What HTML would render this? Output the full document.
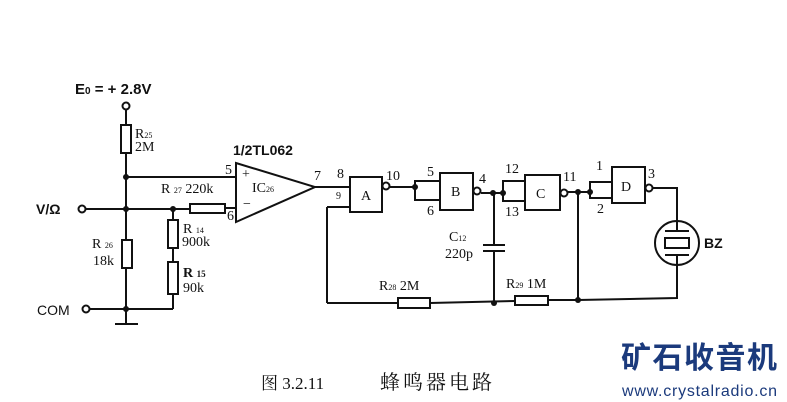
<!DOCTYPE html>
<html><head><meta charset="utf-8"><style>
html,body{margin:0;padding:0;background:#fff;}
svg{display:block}
</style></head><body>
<svg width="787" height="402" viewBox="0 0 787 402" xmlns="http://www.w3.org/2000/svg">
<g stroke="#111" stroke-width="2" fill="none">
<circle cx="126" cy="106" r="3.5"/>
<line x1="126" y1="110" x2="126" y2="125"/>
<rect x="121" y="125" width="10" height="28"/>
<line x1="126" y1="153" x2="126" y2="309"/>
<line x1="126" y1="177" x2="236" y2="177"/>
<circle cx="82" cy="209" r="3.5"/>
<line x1="86" y1="209" x2="190" y2="209"/>
<rect x="190" y="204" width="35" height="9"/>
<line x1="225" y1="208" x2="236" y2="208"/>
<line x1="173" y1="209" x2="173" y2="220"/>
<rect x="168" y="220" width="10" height="28"/>
<line x1="173" y1="248" x2="173" y2="262"/>
<rect x="168" y="262" width="10" height="32"/>
<line x1="173" y1="294" x2="173" y2="309"/>
<rect x="122" y="240" width="10" height="28" fill="#fff"/>
<circle cx="86" cy="309" r="3.5"/>
<line x1="90" y1="309" x2="173" y2="309"/>
<line x1="126" y1="309" x2="126" y2="323"/>
<line x1="115" y1="324" x2="138" y2="324"/>
<polygon points="236,163 236,222 315,187"/>
<line x1="315" y1="187" x2="350" y2="187"/>
<rect x="350" y="177" width="32" height="35"/>
<circle cx="386" cy="186" r="3.5"/>
<line x1="350" y1="207" x2="327" y2="207"/>
<line x1="327" y1="207" x2="327" y2="303"/>
<line x1="390" y1="187" x2="415" y2="187"/>
<polyline points="415,187 415,181 440,181"/>
<polyline points="415,187 415,200 440,200"/>
<rect x="440" y="173" width="33" height="37"/>
<circle cx="477" cy="191" r="3.5"/>
<line x1="481" y1="193" x2="503" y2="193"/>
<polyline points="503,193 503,181 525,181"/>
<polyline points="503,193 503,201 525,201"/>
<rect x="525" y="175" width="35" height="35"/>
<circle cx="564" cy="193" r="3.5"/>
<line x1="568" y1="192" x2="590" y2="192"/>
<polyline points="590,192 590,182 612,182"/>
<polyline points="590,192 590,198 612,198"/>
<rect x="612" y="167" width="33" height="36"/>
<circle cx="649" cy="188" r="3.5"/>
<polyline points="653,188 677,188 677,221"/>
<circle cx="677" cy="243" r="22"/>
<line x1="665" y1="231" x2="689" y2="231"/>
<rect x="665" y="238" width="24" height="10"/>
<line x1="665" y1="255" x2="689" y2="255"/>
<line x1="677" y1="231" x2="677" y2="221"/>
<polyline points="677,255 677,298 578,300"/>
<line x1="494" y1="193" x2="494" y2="245"/>
<line x1="483" y1="245" x2="505" y2="245"/>
<line x1="483" y1="251" x2="505" y2="251"/>
<line x1="494" y1="251" x2="494" y2="303"/>
<line x1="327" y1="303" x2="398" y2="303"/>
<rect x="398" y="298" width="32" height="10"/>
<line x1="430" y1="303" x2="515" y2="301"/>
<rect x="515" y="296" width="33" height="9"/>
<line x1="548" y1="300" x2="578" y2="300"/>
<line x1="578" y1="192" x2="578" y2="300"/>
</g>
<g fill="#111">
<circle cx="126" cy="177" r="3"/><circle cx="126" cy="209" r="3"/><circle cx="173" cy="209" r="3"/><circle cx="126" cy="309" r="3"/>
<circle cx="415" cy="187" r="3"/><circle cx="493" cy="193" r="3"/><circle cx="503" cy="193" r="3"/>
<circle cx="578" cy="192" r="3"/><circle cx="590" cy="192" r="3"/><circle cx="494" cy="303" r="3"/><circle cx="578" cy="300" r="3"/>
</g>
<g font-family="Liberation Serif, serif" fill="#111" font-size="14">
<text x="75" y="94" font-weight="bold" font-family="Liberation Sans, sans-serif" font-size="15">E<tspan font-size="10">0</tspan> = + 2.8V</text>
<text x="135" y="138">R<tspan font-size="8">25</tspan></text>
<text x="135" y="151">2M</text>
<text x="233" y="155" font-weight="bold" font-family="Liberation Sans, sans-serif">1/2TL062</text>
<text x="225" y="174">5</text>
<text x="242" y="178">+</text>
<text x="252" y="192">IC<tspan font-size="8">26</tspan></text>
<text x="243" y="208">−</text>
<text x="227" y="220">6</text>
<text x="161" y="193">R <tspan font-size="8">27</tspan>  220k</text>
<text x="314" y="180">7</text>
<text x="337" y="178">8</text>
<text x="336" y="199" font-size="10">9</text>
<text x="361" y="200">A</text>
<text x="386" y="180">10</text>
<text x="427" y="176">5</text>
<text x="451" y="196">B</text>
<text x="427" y="215">6</text>
<text x="479" y="183">4</text>
<text x="505" y="173">12</text>
<text x="536" y="198">C</text>
<text x="505" y="216">13</text>
<text x="563" y="181">11</text>
<text x="596" y="170">1</text>
<text x="621" y="191">D</text>
<text x="648" y="178">3</text>
<text x="597" y="213">2</text>
<text x="704" y="248" font-weight="bold" font-family="Liberation Sans, sans-serif">BZ</text>
<text x="449" y="241">C<tspan font-size="8">12</tspan></text>
<text x="445" y="258">220p</text>
<text x="379" y="290">R<tspan font-size="8">28</tspan> 2M</text>
<text x="506" y="288">R<tspan font-size="8">29</tspan> 1M</text>
<text x="36" y="214" font-weight="bold" font-family="Liberation Sans, sans-serif">V/Ω</text>
<text x="92" y="248">R <tspan font-size="8">26</tspan></text>
<text x="93" y="265">18k</text>
<text x="183" y="233">R <tspan font-size="8">14</tspan></text>
<text x="182" y="246">900k</text>
<text x="183" y="277" font-weight="bold">R <tspan font-size="9">15</tspan></text>
<text x="183" y="292">90k</text>
<text x="37" y="315" font-family="Liberation Sans, sans-serif">COM</text>
</g>
<text x="261" y="389" font-family="Liberation Serif, 'Noto Serif CJK SC', serif" font-size="17" fill="#111">图 3.2.11</text>
<text x="380" y="389" font-family="Liberation Serif, 'Noto Serif CJK SC', serif" font-size="20" letter-spacing="3" fill="#111">蜂鸣器电路</text>
<text x="621" y="368" font-family="'Noto Sans CJK SC', sans-serif" font-size="30" font-weight="bold" fill="#1b3a7c" textLength="156">矿石收音机</text>
<text x="622" y="396" font-family="Liberation Sans, sans-serif" font-size="16" fill="#1b3a7c" textLength="155">www.crystalradio.cn</text>
</svg>
</body></html>
